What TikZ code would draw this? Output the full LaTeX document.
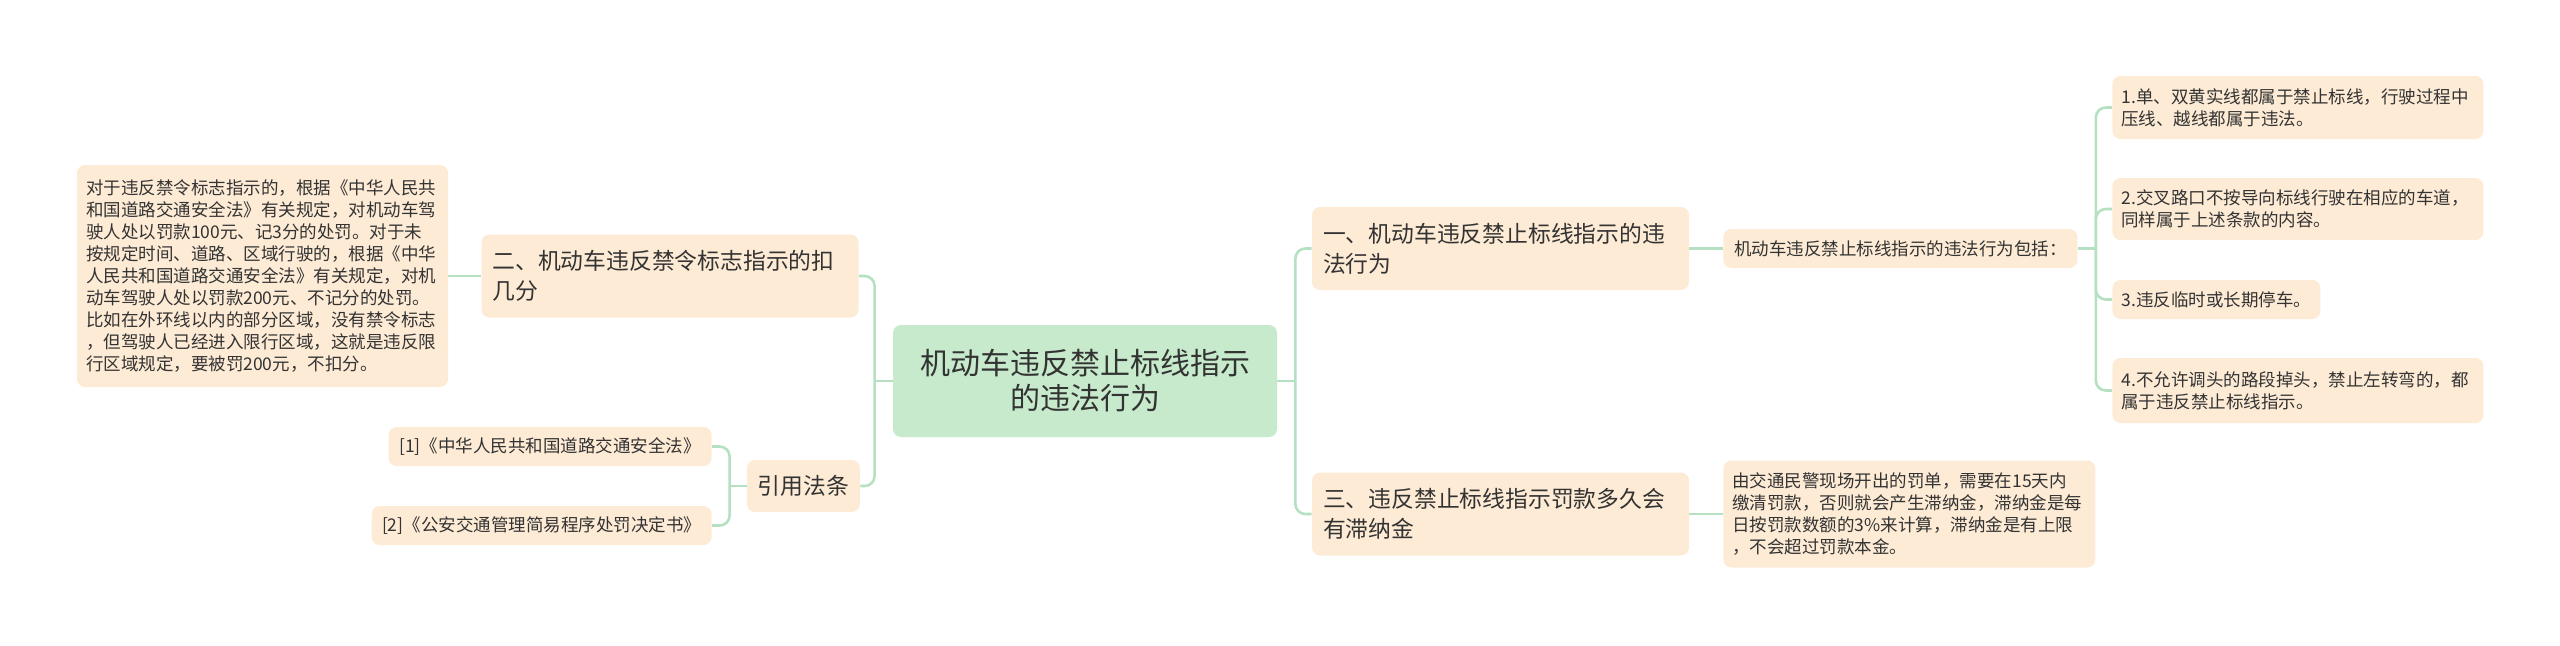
\documentclass[tikz,border=0pt]{standalone}
\usepackage{fontspec}
\setmainfont{Noto Sans CJK SC}
\usetikzlibrary{positioning}

\definecolor{nodefill}{HTML}{FDEBD5}
\definecolor{rootfill}{HTML}{C6EACB}
\definecolor{linkgreen}{HTML}{B5E1C2}
\definecolor{textgray}{HTML}{333333}

\begin{document}
\begin{tikzpicture}[
            x=0.5pt, y=-0.5pt, % one unit = one pixel of the layout
            node_style/.style={rectangle, rounded corners=4pt, fill=nodefill, text=textgray, inner sep=0pt},
            root_style/.style={node_style, fill=rootfill, minimum width=192pt, minimum height=56pt, align=center, font=\fontsize{15pt}{17.5pt}\selectfont},
            branch_style/.style={node_style, minimum width=188.5pt, minimum height=41.5pt, text width=177.5pt, align=left, font=\fontsize{11.4pt}{15pt}\selectfont},
            leaf_style/.style={node_style, minimum height=19.5pt, inner xsep=4.5pt, align=left, font=\fontsize{8.75pt}{11pt}\selectfont},
            wide_leaf/.style={leaf_style, inner xsep=0pt, minimum width=#1, text width=#1-9pt},
            edge_style/.style={linkgreen, line width=1.3pt, rounded corners=5pt}
        ]
        \useasboundingbox (0,0) rectangle (2560,645);

        % Centre topic
        \node[root_style] (root) at (1085,381) {机动车违反禁止标线指示\\的违法行为};

        % Left side
        \node[branch_style] (b2) at (670,276) {二、机动车违反禁令标志指示的扣\\几分};
        \node[wide_leaf=185.5pt, minimum height=111pt] (l1) at (262.5,276) {对于违反禁令标志指示的，根据《中华人民共\\和国道路交通安全法》有关规定，对机动车驾\\驶人处以罚款100元、记3分的处罚。对于未\\按规定时间、道路、区域行驶的，根据《中华\\人民共和国道路交通安全法》有关规定，对机\\动车驾驶人处以罚款200元、不记分的处罚。\\比如在外环线以内的部分区域，没有禁令标志\\，但驾驶人已经进入限行区域，这就是违反限\\行区域规定，要被罚200元，不扣分。};
        \node[branch_style, text width=, minimum width=56.5pt, minimum height=26pt, align=center] (cite) at (803.5,486) {引用法条};
        \node[leaf_style, anchor=east, minimum width=161.5pt, align=center] (ref1) at (712,446.5) {[1]《中华人民共和国道路交通安全法》};
        \node[leaf_style, anchor=east, minimum width=170pt, align=center] (ref2) at (712,525.5) {[2]《公安交通管理简易程序处罚决定书》};

        % Right side
        \node[branch_style] (b1) at (1500.5,248.5) {一、机动车违反禁止标线指示的违\\法行为};
        \node[branch_style] (b3) at (1500.5,514) {三、违反禁止标线指示罚款多久会\\有滞纳金};
        \node[leaf_style, anchor=west, minimum width=177pt] (s1) at (1723,248.5) {机动车违反禁止标线指示的违法行为包括：};
        \node[wide_leaf=186pt, anchor=west, minimum height=53.5pt] (s3) at (1723,514) {由交通民警现场开出的罚单，需要在15天内\\缴清罚款，否则就会产生滞纳金，滞纳金是每\\日按罚款数额的3\%来计算，滞纳金是有上限\\，不会超过罚款本金。};

        \node[wide_leaf=185.5pt, anchor=west, minimum height=31.5pt] (p1) at (2112,107.5) {1.单、双黄实线都属于禁止标线，行驶过程中\\压线、越线都属于违法。};
        \node[wide_leaf=185.5pt, anchor=west, minimum height=31pt] (p2) at (2112,209) {2.交叉路口不按导向标线行驶在相应的车道，\\同样属于上述条款的内容。};
        \node[leaf_style, anchor=west, minimum width=104pt] (p3) at (2112,299.5) {3.违反临时或长期停车。};
        \node[wide_leaf=185.5pt, anchor=west, minimum height=32.5pt] (p4) at (2112,390.5) {4.不允许调头的路段掉头，禁止左转弯的，都\\属于违反禁止标线指示。};

        % Junction points
        \coordinate (rootR) at ([xshift=9pt]root.east);
        \coordinate (rootL) at ([xshift=-9pt]root.west);
        \coordinate (citeL) at ([xshift=-8.5pt]cite.west);
        \coordinate (s1R) at ([xshift=9pt]s1.east);

        % Edges
        \draw[edge_style] (root.east) -- (rootR);
        \foreach \v in {b1, b3} { \draw[edge_style] (rootR) |- (\v.west); }

        \draw[edge_style] (root.west) -- (rootL);
        \foreach \v in {b2, cite} { \draw[edge_style] (rootL) |- (\v.east); }

        \draw[edge_style] (b2.west) -- (l1.east);

        \draw[edge_style] (cite.west) -- (citeL);
        \foreach \v in {ref1, ref2} { \draw[edge_style] (citeL) |- (\v.east); }

        \draw[edge_style] (b1.east) -- (s1.west);
        \draw[edge_style] (b3.east) -- (s3.west);

        \draw[edge_style] (s1.east) -- (s1R);
        \foreach \v in {p1, p2, p3, p4} { \draw[edge_style] (s1R) |- (\v.west); }

    \end{tikzpicture}
\end{document}
